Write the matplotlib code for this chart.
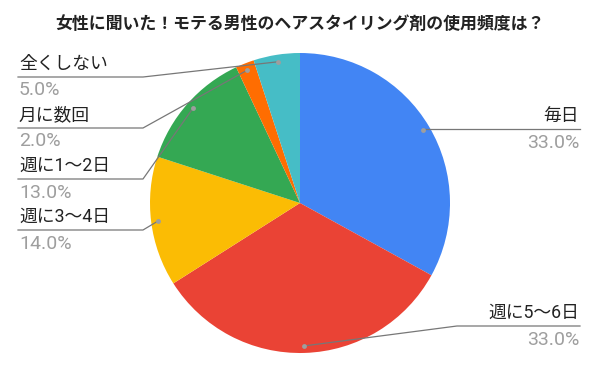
import numpy as np
import matplotlib
matplotlib.use('Agg')
import matplotlib.pyplot as plt

plt.rcParams['font.family'] = ['Roboto', 'Noto Sans CJK JP', 'DejaVu Sans']

title = "女性に聞いた！モテる男性のヘアスタイリング剤の使用頻度は？"
labels = ["毎日", "週に5〜6日", "週に3〜4日", "週に1〜2日", "月に数回", "全くしない"]
values = [33, 33, 14, 13, 2, 5]
colors = ['#4285F4', '#EA4335', '#FBBC04', '#34A853', '#FF6D01', '#46BDC6']

W, H = 600, 371
fig = plt.figure(figsize=(W / 100, H / 100), dpi=100)
ax = fig.add_axes([0, 0, 1, 1])

cx, cy, r = 300, H - 203, 150
ax.pie(values, colors=colors, startangle=90, counterclock=False,
       center=(cx, cy), radius=r, wedgeprops=dict(linewidth=0),
       frame=True)
ax.set_xlim(0, W)
ax.set_ylim(0, H)
ax.set_aspect('equal')
ax.axis('off')

fig.text(0.5, 1 - 23 / H, title, ha='center', va='center',
         fontsize=12.2, fontweight='bold', color='#222222')

# anchor dot inside each wedge, at its mid-angle
total = sum(values)
cum = np.cumsum([0] + values[:-1])
mid = np.deg2rad(90 - 360 * (cum + np.array(values) / 2) / total)
dots = [(cx + 0.953 * r * np.cos(a), cy + 0.953 * r * np.sin(a)) for a in mid]

# label layout: (side, underline y in px, text y, pct y, elbow x)
layout = {
    "毎日": ('right', 129, 116, 143, None),
    "週に5〜6日": ('right', 326, 313, 340, 457),
    "週に3〜4日": ('left', 230, 217, 244, 143),
    "週に1〜2日": ('left', 179, 166, 193, 143),
    "月に数回": ('left', 128, 115, 141, 143),
    "全くしない": ('left', 77, 64, 90, 143),
}

line_c = '#777777'
for lab, v, (dx, dy) in zip(labels, values, dots):
    side, ly, ty, py, ex = layout[lab]
    ly, ty, py = H - ly, H - ty, H - py
    if side == 'left':
        ax.plot([18, ex, dx], [ly, ly, dy], color=line_c, lw=0.9, zorder=3)
        tx, ha = 19, 'left'
    else:
        if ex is None:
            ax.plot([dx, 580], [ly, ly], color=line_c, lw=0.9, zorder=3)
        else:
            ax.plot([dx, ex, 580], [dy, ly, ly], color=line_c, lw=0.9, zorder=3)
        tx, ha = 579, 'right'
    ax.plot(dx, dy, 'o', ms=3.5, color='#9e9e9e', mec='none', zorder=4)
    ax.text(tx, ty, lab, ha=ha, va='center', fontsize=12.8, color='#222222')
    ax.text(tx, py, f"{v:.1f}%", ha=ha, va='center', fontsize=14,
            color='#9e9e9e')

fig.savefig('out.png', dpi=100)
